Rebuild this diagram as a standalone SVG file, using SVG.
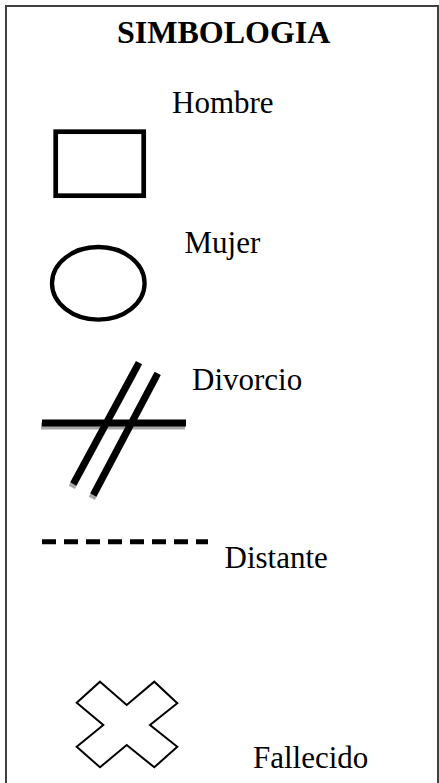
<svg xmlns="http://www.w3.org/2000/svg" width="439" height="783" viewBox="0 0 439 783">
<style>
.lbl{font-family:"Liberation Serif","Times New Roman",serif;font-size:31px;fill:#000}
.ttl{font-family:"Liberation Serif","Times New Roman",serif;font-size:32px;font-weight:bold;fill:#000}
.sym{fill:none;stroke:#000}
.bar{stroke:#000;stroke-width:7;stroke-linecap:butt}
.shd{stroke:#a6a6a6;stroke-width:7;stroke-linecap:butt}
</style>
<rect x="0" y="0" width="439" height="783" fill="#fff"/>
<rect id="frame" x="6" y="6" width="432" height="800" fill="none" stroke="#404040" stroke-width="2"/>
<text id="title" class="ttl" x="117" y="43">SIMBOLOGIA</text>
<g id="hombre">
<rect class="sym" x="55.7" y="131.7" width="88" height="64" stroke-width="4.7"/>
<text class="lbl" x="172" y="113">Hombre</text>
</g>
<g id="mujer">
<ellipse class="sym" cx="98.3" cy="283.3" rx="46.3" ry="36.3" stroke-width="4.3"/>
<text class="lbl" x="184.5" y="253">Mujer</text>
</g>
<g id="divorcio">
<line class="shd" x1="41" y1="426" x2="185" y2="426"/>
<line class="shd" x1="137.5" y1="366" x2="71.8" y2="487.3"/>
<line class="shd" x1="156.2" y1="376.6" x2="91.8" y2="498.3"/>
<line class="bar" x1="42" y1="423" x2="186" y2="423"/>
<line class="bar" x1="139" y1="362.7" x2="73.3" y2="484"/>
<line class="bar" x1="157.7" y1="373.3" x2="93.3" y2="495"/>
<text class="lbl" x="192" y="390">Divorcio</text>
</g>
<g id="distante">
<line x1="42" y1="541.7" x2="208" y2="541.7" stroke="#000" stroke-width="5" stroke-dasharray="14 8"/>
<text class="lbl" x="224.5" y="568">Distante</text>
</g>
<g id="fallecido">
<polygon points="100,681.7 126.7,705 154.3,681.7 177.3,703.3 150,725 177.3,746.7 154.3,767.3 126.7,745 100,767.3 76.7,746.7 103.3,725 76.7,702.7" fill="#fff" stroke="#000" stroke-width="2"/>
<text class="lbl" x="253" y="768">Fallecido</text>
</g>
<g id="connectors"/>
</svg>
